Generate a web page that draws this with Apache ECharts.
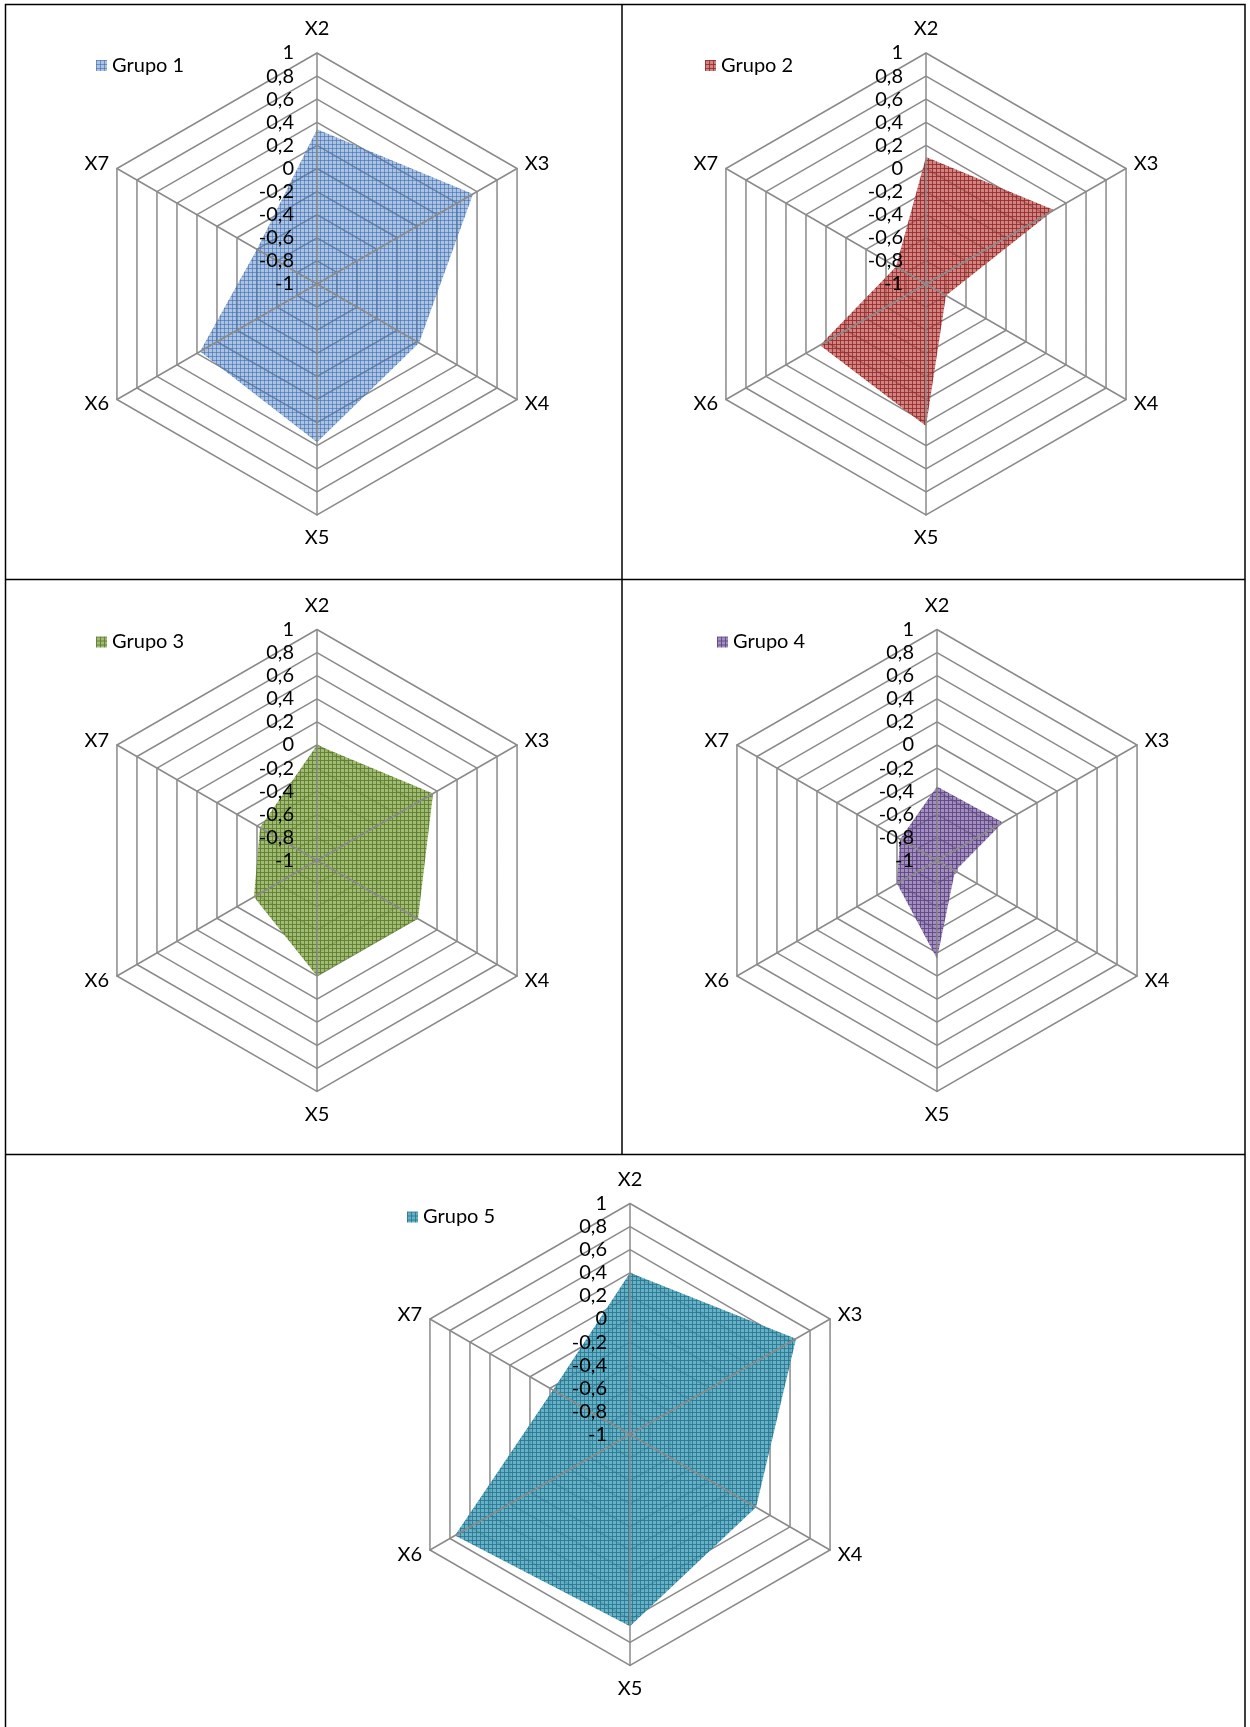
<!DOCTYPE html>
<html>
<head>
<meta charset="utf-8">
<script src="https://cdn.jsdelivr.net/npm/echarts@6/dist/echarts.min.js"></script>
<style>
  html, body { margin: 0; padding: 0; background: #ffffff; }
  #chart { width: 1250px; height: 1727px; }
</style>
</head>
<body>
<div id="chart"></div>
<script>
// Axes in clockwise order starting from the top spoke
const AXES = ['X2', 'X3', 'X4', 'X5', 'X6', 'X7'];
const GROUPS = ['Grupo 1', 'Grupo 2', 'Grupo 3', 'Grupo 4', 'Grupo 5'];

// Group profiles, one value per axis (X2..X7)
const GRUPO_1 = [0.34, 0.56, 0.02, 0.37, 0.17, -0.40];
const GRUPO_2 = [0.10, 0.28, -0.80, 0.23, 0.06, -0.70];
const GRUPO_3 = [0.00, 0.16, 0.01, 0.00, -0.37, -0.43];
const GRUPO_4 = [-0.36, -0.34, -0.82, -0.15, -0.60, -0.63];
const GRUPO_5 = [0.40, 0.66, 0.26, 0.66, 0.75, -0.23];

// Radial scale and its tick step (labels -1 .. 1)
const SCALE_MIN = -1;
const SCALE_MAX = 1;
const SCALE_STEP = 0.2;

const FONT = 'Lato, "Open Sans", sans-serif';
const FONT_SIZE = 20;

// ECharts places indicators counter-clockwise; list them so X3 sits on the right
const CCW_ORDER = [0, 5, 4, 3, 2, 1];

// Fine grid pattern used as fill
function gridPattern(rgb, lineRgb, bgAlpha, lineAlpha) {
  const c = document.createElement('canvas');
  c.width = 4; c.height = 4;
  const g = c.getContext('2d');
  g.fillStyle = 'rgba(' + rgb.join(',') + ',' + bgAlpha + ')';
  g.fillRect(0, 0, 4, 4);
  g.clearRect(0, 0, 4, 1);
  g.clearRect(0, 0, 1, 4);
  g.fillStyle = 'rgba(' + lineRgb.join(',') + ',' + lineAlpha + ')';
  g.fillRect(0, 0, 4, 1);
  g.fillRect(0, 0, 1, 4);
  return { image: c, repeat: 'repeat' };
}

const panels = [
  { name: GROUPS[0], values: GRUPO_1, center: [317, 284],   legend: [96, 55.5],
    fill: gridPattern([79, 129, 189], [70, 115, 185], 0.48, 0.8) },
  { name: GROUPS[1], values: GRUPO_2, center: [926, 284],   legend: [705, 55.5],
    fill: gridPattern([192, 80, 77], [150, 45, 45], 0.7, 0.95) },
  { name: GROUPS[2], values: GRUPO_3, center: [317, 860.5], legend: [96, 632],
    fill: gridPattern([140, 172, 82], [95, 125, 50], 0.82, 0.95) },
  { name: GROUPS[3], values: GRUPO_4, center: [937, 860.5], legend: [717, 632],
    fill: gridPattern([128, 100, 162], [95, 70, 135], 0.72, 0.95) },
  { name: GROUPS[4], values: GRUPO_5, center: [630, 1434.5], legend: [407, 1207],
    fill: gridPattern([70, 160, 185], [40, 120, 145], 0.82, 0.95) }
];
const RADIUS = 231;
const GRID_COLOR = '#8a8a8a';

function nameGapFor(axis) {
  if (axis === 'X2') return 14;
  if (axis === 'X5') return 13;
  return 9;
}

function indicators(withLabels) {
  return CCW_ORDER.map(function (k) {
    const ind = { name: AXES[k], min: SCALE_MIN, max: SCALE_MAX, nameGap: nameGapFor(AXES[k]) };
    if (withLabels && k === 0) {
      ind.axisLabel = {
        show: true,
        margin: 23,
        color: '#000',
        fontFamily: FONT,
        fontSize: FONT_SIZE,
        padding: [10, 0, 0, 0],
        formatter: function (v) { return String(+v.toFixed(1)).replace('.', ','); }
      };
    }
    return ind;
  });
}

const splits = Math.round((SCALE_MAX - SCALE_MIN) / SCALE_STEP);

const radar = [];
const series = [];
const legend = [];

panels.forEach(function (p, i) {
  // rings, below the filled area
  radar.push({
    center: p.center, radius: RADIUS, shape: 'polygon', splitNumber: splits, z: 0,
    indicator: indicators(false),
    axisName: { show: false },
    axisLine: { show: false },
    splitLine: { show: true, lineStyle: { color: GRID_COLOR, width: 1.5 } },
    splitArea: { show: false },
    axisLabel: { show: false }
  });
  // spokes, tick labels and axis names, above the filled area
  radar.push({
    center: p.center, radius: RADIUS, shape: 'polygon', splitNumber: splits, z: 3,
    indicator: indicators(true),
    axisName: { show: true, color: '#000', fontFamily: FONT, fontSize: FONT_SIZE },
    axisLine: { show: true, lineStyle: { color: GRID_COLOR, width: 1.5 } },
    splitLine: { show: false },
    splitArea: { show: false },
    axisLabel: { show: false }
  });
  series.push({
    type: 'radar', name: p.name, radarIndex: 2 * i, z: 2, silent: true,
    symbol: 'none',
    lineStyle: { width: 0, opacity: 0 },
    itemStyle: { color: p.fill },
    areaStyle: { color: p.fill, opacity: 1 },
    data: [{ name: p.name, value: CCW_ORDER.map(function (k) { return p.values[k]; }) }]
  });
  legend.push({
    data: [{ name: p.name, icon: 'rect' }],
    left: p.legend[0], top: p.legend[1], padding: 0,
    itemWidth: 11, itemHeight: 11, selectedMode: false,
    textStyle: { color: '#000', fontFamily: FONT, fontSize: FONT_SIZE, padding: [4, 0, 0, 0] }
  });
});

// panel frame
const FRAME = { left: 5.5, right: 1245, top: 4.5, bottom: 1735, rowA: 579.5, rowB: 1154.5, mid: 622 };
const frameStyle = { stroke: '#000', lineWidth: 1.5 };
const graphic = [
  { type: 'rect', shape: { x: FRAME.left, y: FRAME.top, width: FRAME.right - FRAME.left, height: FRAME.bottom - FRAME.top }, style: { fill: 'none', stroke: '#000', lineWidth: 1.5 }, silent: true, z: 10 },
  { type: 'line', shape: { x1: FRAME.left, y1: FRAME.rowA, x2: FRAME.right, y2: FRAME.rowA }, style: frameStyle, silent: true, z: 10 },
  { type: 'line', shape: { x1: FRAME.left, y1: FRAME.rowB, x2: FRAME.right, y2: FRAME.rowB }, style: frameStyle, silent: true, z: 10 },
  { type: 'line', shape: { x1: FRAME.mid, y1: FRAME.top, x2: FRAME.mid, y2: FRAME.rowB }, style: frameStyle, silent: true, z: 10 }
];

const chart = echarts.init(document.getElementById('chart'), null, { renderer: 'canvas' });
chart.setOption({
  animation: false,
  backgroundColor: '#ffffff',
  radar: radar,
  legend: legend,
  series: series,
  graphic: graphic
});
</script>
</body>
</html>
